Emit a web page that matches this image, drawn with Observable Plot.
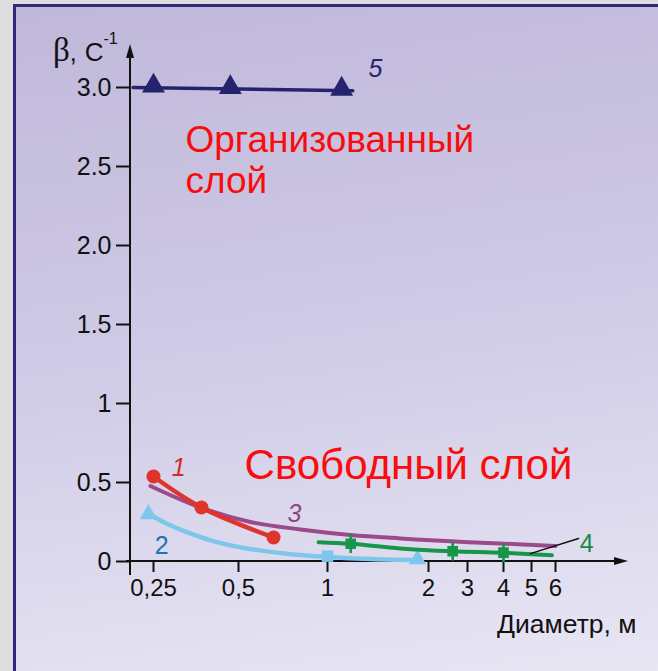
<!DOCTYPE html>
<html><head><meta charset="utf-8">
<script src="https://cdn.jsdelivr.net/npm/d3@7"></script>
<script src="https://cdn.jsdelivr.net/npm/@observablehq/plot@0.6"></script>
<style>
html,body{margin:0;padding:0;background:#dddddd;}
#wrap{position:relative;width:658px;height:671px;overflow:hidden;background:#dddddd;}
#panel{position:absolute;left:13px;top:4px;right:-10px;bottom:-10px;border-left:3px solid #2d2878;border-top:3px solid #2d2878;background:linear-gradient(172deg,#c0b8da 0%,#cec9e5 45%,#e9e7f4 100%);}
#chart{position:absolute;left:0;top:0;}
</style></head><body>
<div id="wrap"><div id="panel"></div><div id="chart"></div></div>
<script>
// ---- tick values / labels ----
const xTicks = [0.25, 0.5, 1, 2, 3, 4, 5, 6];
const xTickLabels = ["0,25", "0,5", "1", "2", "3", "4", "5", "6"];
const yTicks = [0, 0.5, 1, 1.5, 2, 2.5, 3];
const yTickLabels = ["0", "0.5", "1", "1.5", "2.0", "2.5", "3.0"];

// ---- series 5 (organized layer) ----
const s5LineX = [0.19, 1.25];
const s5LineY = [3.0, 2.98];
const s5MarkX = [0.25, 0.476, 1.14];
const s5MarkY = [3.01, 3.0, 2.99];

// ---- series 1 ----
const s1X = [0.25, 0.391, 0.697];
const s1Y = [0.538, 0.342, 0.152];

// ---- series 2 ----
const s2X = [0.235, 0.291, 0.35, 0.418, 0.506, 0.68, 0.848, 1.0, 1.426, 1.891];
const s2Y = [0.304, 0.237, 0.184, 0.134, 0.091, 0.061, 0.041, 0.029, 0.016, 0.009];
const s2MarkX = [0.235, 1.0, 1.891];
const s2MarkY = [0.30, 0.034, 0.014];
const s2MarkShape = ["triangle", "square", "triangle"];

// ---- series 3 ----
const s3X = [0.241, 0.388, 0.567, 0.848, 1.228, 1.723, 2.564, 3.893, 6.0];
const s3Y = [0.478, 0.342, 0.25, 0.203, 0.168, 0.146, 0.128, 0.114, 0.098];

// ---- series 4 ----
const s4X = [0.95, 1.23, 1.72, 2.62, 3.97, 5.85];
const s4Y = [0.122, 0.112, 0.083, 0.065, 0.055, 0.04];
const s4MarkX = [1.23, 2.62, 4.0];
const s4MarkY = [0.112, 0.065, 0.056];

// ---- curve labels ----
const curveLabels = ["1", "2", "3", "4", "5"];
const curveLabelX = [0.324, 0.274, 0.815, 7.3, 1.475];
const curveLabelY = [0.59, 0.095, 0.30, 0.108, 3.12];
const curveLabelColor = ["#d42a25", "#1a74b6", "#8e4584", "#1b8a48", "#25236e"];
const curveLabelItalic = [true, false, true, false, true];
const leader4X = [4.96, 6.96];
const leader4Y = [0.05, 0.146];

// ---- region texts ----
const regionText = ["Организованный\nслой", "Свободный слой"];
const regionX = [0.344, 0.534];
const regionY = [2.33, 0.525];
const regionSize = [37, 42];

const xTitle = "Диаметр, м";

const pts = (xs, ys) => xs.map((x, i) => ({x, y: ys[i]}));
const labelRows = curveLabels.map((t, i) => ({t, x: curveLabelX[i], y: curveLabelY[i], c: curveLabelColor[i], it: curveLabelItalic[i]}));

const squareCross = {
  draw(ctx, size) {
    const s = Math.sqrt(size) / 2;
    ctx.moveTo(-s, -s); ctx.lineTo(s, -s); ctx.lineTo(s, s); ctx.lineTo(-s, s); ctx.closePath();
    ctx.moveTo(-1.3, -s - 4); ctx.lineTo(1.3, -s - 4); ctx.lineTo(1.3, s + 4); ctx.lineTo(-1.3, s + 4); ctx.closePath();
  }
};

function axesLines(index, scales, values, dims) {
  const {width, marginLeft} = dims;
  const y0 = scales.y(0);
  const ax = marginLeft;
  const g = d3.create("svg:g").attr("fill", "#111");
  g.append("line").attr("x1", ax - 4).attr("x2", width - 36).attr("y1", y0).attr("y2", y0)
    .attr("stroke", "#111").attr("stroke-width", 2);
  const xt = width - 30;
  g.append("path").attr("d", `M${xt},${y0}L${xt - 14},${y0 - 4}L${xt - 14},${y0 + 4}Z`);
  const yt = scales.y(3) - 43;
  g.append("line").attr("x1", ax).attr("x2", ax).attr("y1", y0 + 14).attr("y2", yt + 8)
    .attr("stroke", "#111").attr("stroke-width", 2);
  g.append("path").attr("d", `M${ax},${yt}L${ax - 4},${yt + 14}L${ax + 4},${yt + 14}Z`);
  return g.node();
}

function yLabel(index, scales, values, dims) {
  const ax = dims.marginLeft;
  const t = d3.create("svg:text").attr("y", scales.y(3) - 26).attr("fill", "#111")
    .attr("text-anchor", "start")
    .attr("font-family", "'Liberation Sans', Arial, sans-serif");
  t.append("tspan").attr("x", ax - 77).attr("font-family", "'Liberation Serif', serif").attr("font-size", 33).text("β");
  t.append("tspan").attr("font-size", 25).text(",");
  t.append("tspan").attr("font-size", 26).attr("dx", 8).text("C");
  t.append("tspan").attr("font-size", 16).attr("dy", -17).text("-1");
  return t.node();
}

const plot = Plot.plot({
  width: 658,
  height: 671,
  marginLeft: 130,
  marginBottom: 110,
  marginTop: 87,
  marginRight: 103,
  style: {background: "transparent", fontFamily: "'Liberation Sans', Arial, sans-serif", color: "#111", overflow: "visible"},
  x: {type: "linear", domain: xTicks, range: [153, 238, 327, 428, 467, 503, 531, 555]},
  y: {domain: [0, 3]},
  marks: [
    axesLines,
    Plot.axisX(xTicks, {tickFormat: d => xTickLabels[xTicks.indexOf(d)], tickSize: 11, tickPadding: 6, fontSize: 24, strokeWidth: 2, label: null, stroke: "#111"}),
    Plot.axisY(yTicks, {tickFormat: d => yTickLabels[yTicks.indexOf(d)], tickSize: 14, tickPadding: 5, fontSize: 25, strokeWidth: 2, label: null, stroke: "#111"}),
    yLabel,
    // series 3
    Plot.line(pts(s3X, s3Y), {x: "x", y: "y", stroke: "#9c4a8c", strokeWidth: 4, curve: "catmull-rom"}),
    // series 2
    Plot.line(pts(s2X, s2Y), {x: "x", y: "y", stroke: "#7ec6ec", strokeWidth: 4.5, curve: "catmull-rom"}),
    Plot.dot(s2MarkX.map((x, i) => ({x, y: s2MarkY[i], s: s2MarkShape[i]})), {x: "x", y: "y", symbol: "s", r: 6.5, fill: "#7ec6ec"}),
    // series 4
    Plot.line(pts(s4X, s4Y), {x: "x", y: "y", stroke: "#17964a", strokeWidth: 4, curve: "catmull-rom"}),
    Plot.dot(pts(s4MarkX, s4MarkY), {x: "x", y: "y", symbol: squareCross, r: 6, fill: "#17964a"}),
    Plot.line(pts(leader4X, leader4Y), {x: "x", y: "y", stroke: "#111", strokeWidth: 1.5}),
    // series 1
    Plot.line(pts(s1X, s1Y), {x: "x", y: "y", stroke: "#e0332c", strokeWidth: 4.5, curve: "catmull-rom"}),
    Plot.dot(pts(s1X, s1Y), {x: "x", y: "y", r: 7, fill: "#e0332c"}),
    // series 5
    Plot.line(pts(s5LineX, s5LineY), {x: "x", y: "y", stroke: "#25236e", strokeWidth: 3.5}),
    Plot.dot(pts(s5MarkX, s5MarkY), {x: "x", y: "y", symbol: "triangle", r: 8.5, fill: "#25236e"}),
    // curve labels
    Plot.text(labelRows.filter(d => d.it), {x: "x", y: "y", text: "t", fill: d => d.c, fontSize: 25, fontStyle: "italic"}),
    Plot.text(labelRows.filter(d => !d.it), {x: "x", y: "y", text: "t", fill: d => d.c, fontSize: 25}),
    // region texts
    Plot.text(regionText.map((t, i) => ({t, x: regionX[i], y: regionY[i], s: regionSize[i]})),
      {x: "x", y: "y", text: "t", fill: "#f80c0c", fontSize: d => d.s, textAnchor: "start", lineAnchor: "bottom", lineHeight: 1.11}),
    // x title
    Plot.text([xTitle], {frameAnchor: "bottom-right", dx: 81, dy: 71, fontSize: 26.5, fill: "#111", textAnchor: "end", lineAnchor: "bottom"})
  ]
});
document.getElementById("chart").appendChild(plot);
</script>
</body></html>
